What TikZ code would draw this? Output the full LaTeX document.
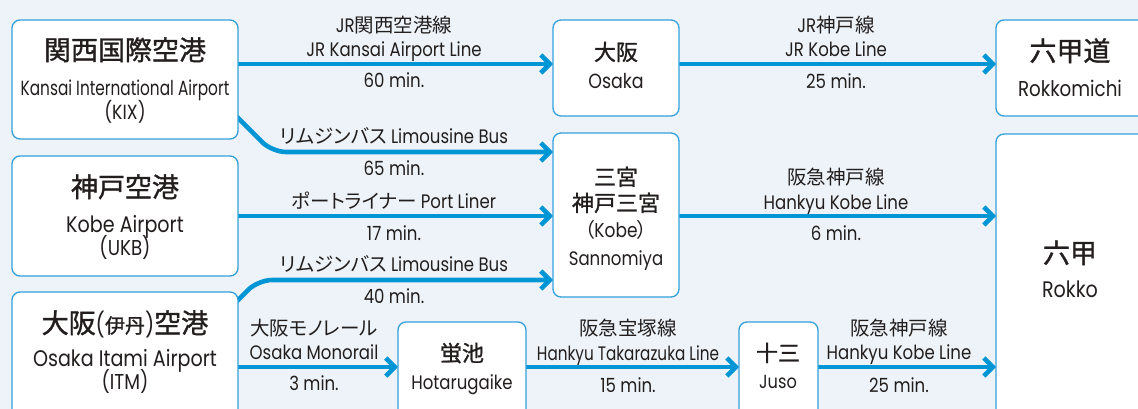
\documentclass[tikz,border=0pt]{standalone}
\usepackage{fontspec}
\setmainfont{Poppins}[FakeStretch=0.85]
\newfontfamily\jp{Noto Sans CJK JP}[RawFeature=+palt]
\newfontfamily\jpm{Noto Sans CJK JP}[FakeBold=1.2,RawFeature=+palt]
\usetikzlibrary{arrows.meta}
\pgfdeclarelayer{back}
\pgfdeclarelayer{wires}
\pgfsetlayers{back,wires,main}
\definecolor{bgc}{RGB}{237,243,248}
\definecolor{framec}{RGB}{52,160,219}
\definecolor{linec}{RGB}{0,150,214}
\definecolor{inkc}{RGB}{35,30,30}
\newcommand{\fsz}[1]{\fontsize{#1}{#1}\selectfont}
\begin{document}
\begin{tikzpicture}[x=1pt,y=-1pt,
 box/.style={draw=framec,fill=white,line width=1.3pt,rounded corners=8pt,anchor=north west,inner sep=0pt,outer sep=0pt},
 wire/.style={draw=linec,line width=4.6pt,-{Straight Barb[length=9pt,width=18pt]}},
 txt/.style={text=inkc,inner sep=0pt,text depth=0pt,anchor=center},
 big/.style={txt,font=\jpm\fsz{27},text height=20pt},
 mid/.style={txt,font=\jpm\fsz{22},text height=16.5pt},
 lat/.style={txt,font=\fsz{#1},text height={0.72*#1pt}},
 lat/.default=19.5,
]
\useasboundingbox (0,0) rectangle (1138,409);
\begin{pgfonlayer}{back}
\fill[bgc] (0,0) rectangle (1138,409);
\end{pgfonlayer}

% boxes
\node[box,minimum width=226pt,minimum height=119pt] (kix) at (12,20) {};
\node[box,minimum width=226pt,minimum height=120pt] (ukb) at (12,156) {};
\node[box,minimum width=226pt,minimum height=140pt] (itm) at (12,292) {};
\node[box,minimum width=126pt,minimum height=96pt] (osaka) at (553,20) {};
\node[box,minimum width=126pt,minimum height=164pt] (sanno) at (553,133) {};
\node[box,minimum width=128pt,minimum height=110pt] (hotaru) at (398,322) {};
\node[box,minimum width=79pt,minimum height=110pt] (juso) at (739,322) {};
\node[box,minimum width=160pt,minimum height=96pt] (rokkomichi) at (996,20) {};
\node[box,minimum width=160pt,minimum height=300pt] (rokko) at (996,134) {};

% box texts
\node[big] (kixj) at (125,50) {関西国際空港};
\node[lat=20.5] (kixe) at (125,88) {\scalebox{0.88}[1]{Kansai International Airport}};
\node[lat=20.5] (kixc) at (125,112) {(KIX)};
\node[big] (ukbj) at (125,187) {神戸空港};
\node[lat=22.5] (ukbe) at (125,224) {Kobe Airport};
\node[lat=21.5] (ukbc) at (125,248) {(UKB)};
\node[big] (itmj) at (125,323) {大阪{\rmfamily\fsz{24}(}{\fsz{20}伊丹}{\rmfamily\fsz{24})}空港};
\node[lat=22.5] (itme) at (125,358) {Osaka Itami Airport};
\node[lat=21.5] (itmc) at (125,382) {(ITM)};
\node[mid] (osakaj) at (616,52) {大阪};
\node[lat=20.5] (osakae) at (616,81) {Osaka};
\node[mid] (sannoj1) at (616,177) {三宮};
\node[mid] (sannoj2) at (616,203) {神戸三宮};
\node[lat=20] (sannoc) at (616,230) {{\jp （}Kobe{\jp ）}};
\node[lat=19.5] (sannoe) at (616,258) {Sannomiya};
\node[mid] (hotaruj) at (462,353) {蛍池};
\node[lat=19.5] (hotarue) at (462,382) {Hotarugaike};
\node[mid] (jusoj) at (778,353) {十三};
\node[lat=19] (jusoe) at (778,382) {Juso};
\node[big] (rokkomichij) at (1070,51) {六甲道};
\node[lat=21.5] (rokkomichie) at (1070,89) {Rokkomichi};
\node[big] (rokkoj) at (1070,253) {六甲};
\node[lat=22.5] (rokkoe) at (1070,289) {Rokko};

% rows
\coordinate (rA) at (0,64);
\coordinate (rB) at (0,152);
\coordinate (rC) at (0,216);
\coordinate (rD) at (0,280);
\coordinate (rE) at (0,367);
\coordinate (kixout) at (230,110);
\coordinate (kixbend) at (272,152);
\coordinate (itmout) at (228,310);
\coordinate (itmbend) at (258,280);

\begin{pgfonlayer}{wires}
\draw[wire] (kix.east |- rA) -- (osaka.west |- rA);
\draw[wire] (osaka.east |- rA) -- (rokkomichi.west |- rA);
\draw[wire,rounded corners=14pt] (kixout) -- (kixbend) -- (sanno.west |- rB);
\draw[wire] (ukb.east |- rC) -- (sanno.west |- rC);
\draw[wire,rounded corners=14pt] (itmout) -- (itmbend) -- (sanno.west |- rD);
\draw[wire] (sanno.east |- rC) -- (rokko.west |- rC);
\draw[wire] (itm.east |- rE) -- (hotaru.west |- rE);
\draw[wire] (hotaru.east |- rE) -- (juso.west |- rE);
\draw[wire] (juso.east |- rE) -- (rokko.west |- rE);
\end{pgfonlayer}

% connector labels
\node[lat] (la1) at (394,25) {JR{\jp 関西空港線}};
\node[lat] (la2) at (394,49) {JR Kansai Airport Line};
\node[lat] (la3) at (394,80) {60 min.};
\node[lat] (lb1) at (836,25) {JR{\jp 神戸線}};
\node[lat] (lb2) at (836,49) {JR Kobe Line};
\node[lat] (lb3) at (836,81) {25 min.};
\node[lat] (lc1) at (394,136) {{\jp リムジンバス} Limousine Bus};
\node[lat] (lc2) at (394,168) {65 min.};
\node[lat] (ld1) at (394,201) {{\jp ポートライナー} Port Liner};
\node[lat] (ld2) at (394,233) {17 min.};
\node[lat] (le1) at (394,264) {{\jp リムジンバス} Limousine Bus};
\node[lat] (le2) at (394,296) {40 min.};
\node[lat] (lf1) at (836,177) {{\jp 阪急神戸線}};
\node[lat] (lf2) at (836,202) {Hankyu Kobe Line};
\node[lat] (lf3) at (836,233) {6 min.};
\node[lat] (lg1) at (314,328) {{\jp 大阪モノレール}};
\node[lat] (lg2) at (314,352) {Osaka Monorail};
\node[lat] (lg3) at (314,383) {3 min.};
\node[lat] (lh1) at (628,328) {{\jp 阪急宝塚線}};
\node[lat] (lh2) at (628,353) {\scalebox{0.92}[1]{Hankyu Takarazuka Line}};
\node[lat] (lh3) at (628,385) {15 min.};
\node[lat] (li1) at (899,328) {{\jp 阪急神戸線}};
\node[lat] (li2) at (899,352) {Hankyu Kobe Line};
\node[lat] (li3) at (899,385) {25 min.};
\end{tikzpicture}
\end{document}
